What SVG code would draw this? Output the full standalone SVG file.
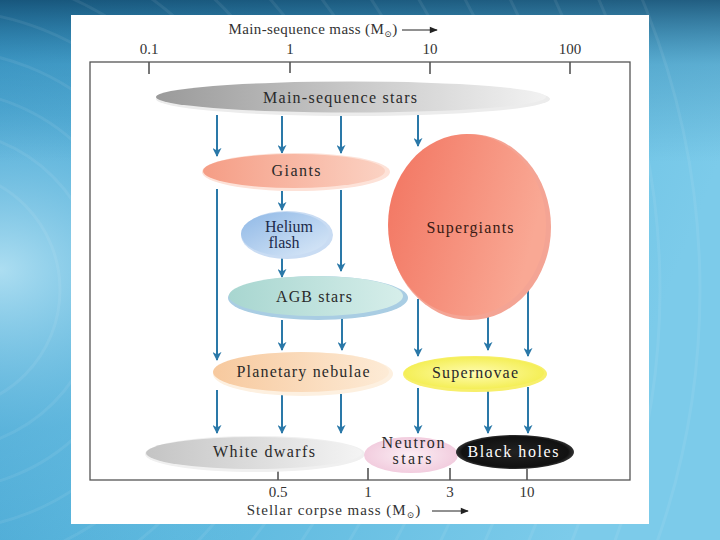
<svg xmlns="http://www.w3.org/2000/svg" width="720" height="540" viewBox="0 0 720 540">
  <defs>
    <linearGradient id="bgLin" x1="0" y1="0" x2="1" y2="0.3">
      <stop offset="0" stop-color="#3a9ccc"/>
      <stop offset="0.5" stop-color="#5cb8de"/>
      <stop offset="1" stop-color="#7ccbea"/>
    </linearGradient>
    <radialGradient id="bgGlow" cx="0" cy="0.5" r="0.6">
      <stop offset="0" stop-color="#bfe8f7" stop-opacity="0.85"/>
      <stop offset="0.5" stop-color="#7cc7e8" stop-opacity="0.35"/>
      <stop offset="1" stop-color="#7cc7e8" stop-opacity="0"/>
    </radialGradient>
    <linearGradient id="bgTop" x1="0" y1="0" x2="0" y2="1">
      <stop offset="0" stop-color="#0d4468" stop-opacity="0.8"/>
      <stop offset="0.12" stop-color="#1b6e9c" stop-opacity="0.3"/>
      <stop offset="0.3" stop-color="#1b6e9c" stop-opacity="0"/>
    </linearGradient>
    <linearGradient id="gMain" x1="0" y1="0" x2="1" y2="0">
      <stop offset="0" stop-color="#9a9a9a"/>
      <stop offset="0.5" stop-color="#c8c8c8"/>
      <stop offset="1" stop-color="#f2f2f2"/>
    </linearGradient>
    <linearGradient id="gGiant" x1="0" y1="0" x2="1" y2="0">
      <stop offset="0" stop-color="#f59d85"/>
      <stop offset="1" stop-color="#fbd2c3"/>
    </linearGradient>
    <linearGradient id="gHel" x1="0" y1="0" x2="1" y2="1">
      <stop offset="0" stop-color="#8fb8e6"/>
      <stop offset="1" stop-color="#dbe9f8"/>
    </linearGradient>
    <linearGradient id="gSuper" x1="0" y1="0" x2="1" y2="0.3">
      <stop offset="0" stop-color="#f27460"/>
      <stop offset="1" stop-color="#f9a894"/>
    </linearGradient>
    <linearGradient id="gAGB" x1="0" y1="0" x2="1" y2="0">
      <stop offset="0" stop-color="#a8d6d0"/>
      <stop offset="1" stop-color="#d6eeea"/>
    </linearGradient>
    <linearGradient id="gPN" x1="0" y1="0" x2="1" y2="0">
      <stop offset="0" stop-color="#f7c99e"/>
      <stop offset="1" stop-color="#fdebd6"/>
    </linearGradient>
    <radialGradient id="gSN" cx="0.5" cy="0.5" r="0.6">
      <stop offset="0" stop-color="#fffcb0"/>
      <stop offset="1" stop-color="#f2ec45"/>
    </radialGradient>
    <linearGradient id="gWD" x1="0" y1="0" x2="1" y2="0">
      <stop offset="0" stop-color="#c4c4c4"/>
      <stop offset="1" stop-color="#f4f4f4"/>
    </linearGradient>
    <radialGradient id="gNS" cx="0.5" cy="0.5" r="0.6">
      <stop offset="0" stop-color="#fbeef4"/>
      <stop offset="1" stop-color="#f0c6da"/>
    </radialGradient>
    <radialGradient id="gBH" cx="0.5" cy="0.5" r="0.6">
      <stop offset="0" stop-color="#222"/>
      <stop offset="0.75" stop-color="#111"/>
      <stop offset="1" stop-color="#777"/>
    </radialGradient>
    <marker id="ah" viewBox="0 0 10 10" refX="9" refY="5" markerWidth="9" markerHeight="9" markerUnits="userSpaceOnUse" orient="auto">
      <path d="M0,0 L10,5 L0,10 L3,5 Z" fill="#2a78a8"/>
    </marker>
    <marker id="ahk" viewBox="0 0 10 10" refX="9" refY="5" markerWidth="9" markerHeight="8" markerUnits="userSpaceOnUse" orient="auto">
      <path d="M0,1 L10,5 L0,9 Z" fill="#222"/>
    </marker>
  </defs>
  <style>
    .lbl { font-family: "Liberation Serif", "Times New Roman", serif; font-size: 16px; fill: #2a2a2a; text-anchor: middle; }
    .ax { font-family: "Liberation Serif", "Times New Roman", serif; font-size: 15px; fill: #333; text-anchor: middle; }
    .sun { font-family: "DejaVu Serif", "DejaVu Sans", serif; font-size: 9px; }
    .conn line { stroke: #2a78a8; stroke-width: 2; marker-end: url(#ah); }
    .tick { stroke: #555; stroke-width: 1.6; }
  </style>

  <!-- background -->
  <rect x="0" y="0" width="720" height="540" fill="url(#bgLin)"/>
  <rect x="0" y="0" width="720" height="540" fill="url(#bgGlow)"/>
  <rect x="0" y="0" width="720" height="540" fill="url(#bgTop)"/>
  <g fill="none" stroke="#ffffff" stroke-opacity="0.07" stroke-width="3">
    <circle cx="-60" cy="290" r="120"/>
    <circle cx="-60" cy="290" r="160"/>
    <circle cx="-60" cy="290" r="200"/>
    <circle cx="-60" cy="290" r="240"/>
    <circle cx="-60" cy="290" r="280"/>
    <circle cx="-60" cy="290" r="320"/>
    <circle cx="-60" cy="290" r="360"/>
    <circle cx="-60" cy="290" r="400"/>
    <circle cx="-60" cy="290" r="440"/>
    <circle cx="-60" cy="290" r="480"/>
    <circle cx="-60" cy="290" r="520"/>
    <circle cx="-60" cy="290" r="560"/>
    <circle cx="-60" cy="290" r="600"/>
    <circle cx="-60" cy="290" r="640"/>
    <circle cx="-60" cy="290" r="680"/>
    <circle cx="-60" cy="290" r="720"/>
    <circle cx="-60" cy="290" r="760"/>
  </g>

  <!-- white panel -->
  <rect x="71" y="15" width="578" height="509" fill="#ffffff"/>

  <!-- axes frame -->
  <g id="axes">
    <rect x="90" y="62" width="540" height="418" fill="none" stroke="#555" stroke-width="1.3"/>
    <text class="ax" x="313" y="34" letter-spacing="0.4">Main-sequence mass (M<tspan class="sun" dy="3">⊙</tspan><tspan dy="-3">)</tspan></text>
    <line x1="402" y1="30" x2="437" y2="30" stroke="#222" stroke-width="1" marker-end="url(#ahk)"/>
    <text class="ax" x="149" y="54">0.1</text>
    <text class="ax" x="290" y="54">1</text>
    <text class="ax" x="430" y="54">10</text>
    <text class="ax" x="570" y="54">100</text>
    <line class="tick" x1="149" y1="62" x2="149" y2="74"/>
    <line class="tick" x1="290" y1="62" x2="290" y2="73"/>
    <line class="tick" x1="430" y1="62" x2="430" y2="74"/>
    <line class="tick" x1="570" y1="62" x2="570" y2="74"/>
    <line class="tick" x1="278" y1="469" x2="278" y2="480"/>
    <line class="tick" x1="368" y1="468" x2="368" y2="480"/>
    <line class="tick" x1="450" y1="468" x2="450" y2="480"/>
    <line class="tick" x1="527" y1="469" x2="527" y2="480"/>
    <text class="ax" x="278" y="497">0.5</text>
    <text class="ax" x="368" y="497">1</text>
    <text class="ax" x="450" y="497">3</text>
    <text class="ax" x="527" y="497">10</text>
    <text class="ax" x="334" y="515" letter-spacing="1">Stellar corpse mass (M<tspan class="sun" dy="3">⊙</tspan><tspan dy="-3">)</tspan></text>
    <line x1="432" y1="511" x2="468" y2="511" stroke="#222" stroke-width="1" marker-end="url(#ahk)"/>
  </g>

  <!-- connectors -->
  <g id="connectors" class="conn">
    <line x1="217" y1="115" x2="217" y2="156"/>
    <line x1="282" y1="116" x2="282" y2="153"/>
    <line x1="341" y1="116" x2="341" y2="153"/>
    <line x1="418" y1="115" x2="418" y2="146"/>
    <line x1="217" y1="189" x2="217" y2="360"/>
    <line x1="282" y1="191" x2="282" y2="210"/>
    <line x1="341" y1="190" x2="341" y2="271"/>
    <line x1="282" y1="258" x2="282" y2="277"/>
    <line x1="282" y1="320" x2="282" y2="350"/>
    <line x1="342" y1="318" x2="342" y2="350"/>
    <line x1="418" y1="299" x2="418" y2="356"/>
    <line x1="488" y1="316" x2="488" y2="350"/>
    <line x1="528" y1="288" x2="528" y2="356"/>
    <line x1="217" y1="390" x2="217" y2="433"/>
    <line x1="282" y1="395" x2="282" y2="433"/>
    <line x1="341" y1="394" x2="341" y2="433"/>
    <line x1="418" y1="388" x2="418" y2="433"/>
    <line x1="488" y1="390" x2="488" y2="433"/>
    <line x1="528" y1="387" x2="528" y2="433"/>
  </g>

  <!-- nodes -->
  <g id="main-sequence">
    <ellipse cx="353" cy="99" rx="197" ry="17" fill="#ececec"/>
    <ellipse cx="351" cy="97" rx="195" ry="15.5" fill="url(#gMain)"/>
    <text class="lbl" x="340" y="103" textLength="154" lengthAdjust="spacing">Main-sequence stars</text>
  </g>
  <g id="giants">
    <ellipse cx="296" cy="172" rx="94" ry="19" fill="#fde2d8"/>
    <ellipse cx="294" cy="171" rx="91" ry="17" fill="url(#gGiant)"/>
    <text class="lbl" x="296" y="176" textLength="49" lengthAdjust="spacing">Giants</text>
  </g>
  <g id="helium-flash">
    <ellipse cx="287" cy="235" rx="46" ry="24" fill="#c9dcf3"/>
    <ellipse cx="285" cy="234" rx="44" ry="22" fill="url(#gHel)"/>
    <text class="lbl" x="289" y="232" style="fill:#1c2a4a">Helium</text>
    <text class="lbl" x="284" y="248" style="fill:#1c2a4a">flash</text>
  </g>
  <g id="supergiants">
    <ellipse cx="470" cy="227" rx="81" ry="93" fill="#f4a494"/>
    <ellipse cx="467" cy="225" rx="79" ry="91" fill="url(#gSuper)"/>
    <text class="lbl" x="470" y="233" textLength="87" lengthAdjust="spacing" style="fill:#3a1a14">Supergiants</text>
  </g>
  <g id="agb-stars">
    <ellipse cx="318" cy="298" rx="90" ry="22" fill="#a9cde3"/>
    <ellipse cx="316" cy="296" rx="87" ry="20" fill="url(#gAGB)"/>
    <text class="lbl" x="314" y="302" textLength="76" lengthAdjust="spacing">AGB stars</text>
  </g>
  <g id="planetary-nebulae">
    <ellipse cx="303" cy="374" rx="90" ry="22" fill="#fdf0e0"/>
    <ellipse cx="301" cy="372" rx="88" ry="20" fill="url(#gPN)"/>
    <text class="lbl" x="303" y="377" textLength="133" lengthAdjust="spacing">Planetary nebulae</text>
  </g>
  <g id="supernovae">
    <ellipse cx="475" cy="374" rx="72" ry="18" fill="#f7ef6a"/>
    <ellipse cx="474" cy="373" rx="70" ry="16" fill="url(#gSN)"/>
    <text class="lbl" x="475" y="378" textLength="86" lengthAdjust="spacing">Supernovae</text>
  </g>
  <g id="white-dwarfs">
    <ellipse cx="255" cy="454" rx="110" ry="18" fill="#f0f0f0"/>
    <ellipse cx="254" cy="453" rx="108" ry="16" fill="url(#gWD)"/>
    <text class="lbl" x="264" y="457" textLength="102" lengthAdjust="spacing">White dwarfs</text>
  </g>
  <g id="neutron-stars">
    <ellipse cx="411" cy="455" rx="47" ry="18" fill="url(#gNS)"/>
    <text class="lbl" x="413" y="448" textLength="63" lengthAdjust="spacing">Neutron</text>
    <text class="lbl" x="412" y="464" textLength="39" lengthAdjust="spacing">stars</text>
  </g>
  <g id="black-holes">
    <ellipse cx="515" cy="452" rx="59" ry="17" fill="url(#gBH)"/>
    <text class="lbl" x="513" y="457" textLength="91" lengthAdjust="spacing" style="fill:#ffffff">Black holes</text>
  </g>
</svg>
